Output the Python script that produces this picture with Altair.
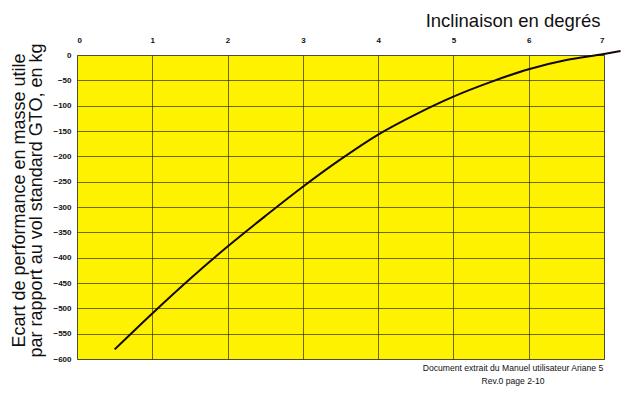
import altair as alt
import pandas as pd

# Curve
incl = [0.5, 1.0, 1.5, 2.0, 2.5, 3.0, 3.5, 4.0, 4.5, 5.0, 5.5, 6.0, 6.5, 7.0, 7.22]
ecart = [-581, -510, -442, -378, -318, -260, -206, -157, -117, -82, -53, -28, -10, 2, 8]

x_ticks = [0, 1, 2, 3, 4, 5, 6, 7]
y_ticks = [0, -50, -100, -150, -200, -250, -300, -350, -400, -450, -500, -550, -600]

x_title = "Inclinaison en degrés"
y_title = ["Ecart de performance  en masse utile", "par rapport au vol standard GTO, en kg"]
footer = ["Document extrait du Manuel utilisateur Ariane 5", "Rev.0 page 2-10"]

df = pd.DataFrame({"incl": incl, "ecart": ecart})
foot_df = pd.DataFrame({"t": ["\n".join(footer)]})

FONT = "Liberation Sans"

line = alt.Chart(df).mark_line(color="#140808", strokeWidth=2, clip=False, interpolate="monotone").encode(
    x=alt.X(
        "incl:Q",
        scale=alt.Scale(domain=[0, 7], nice=False, zero=False),
        axis=alt.Axis(
            orient="top",
            values=x_ticks,
            title=x_title,
            titleFont=FONT,
            titleFontSize=18.5,
            titleFontWeight="normal",
            titleColor="#111",
            titleAnchor="end",
            titleAlign="right",
            titleBaseline="alphabetic",
            titleX=523,
            titleY=-29,
            labelFont=FONT,
            labelFontSize=8,
            labelFontWeight="bold",
            labelColor="#111",
            labelPadding=11,
            ticks=False,
            domain=False,
            grid=True,
            gridColor="#2a2a10",
            gridWidth=0.8,
            gridOpacity=0.85,
        ),
    ),
    y=alt.Y(
        "ecart:Q",
        scale=alt.Scale(domain=[-600, 0], nice=False, zero=False),
        axis=alt.Axis(
            values=y_ticks,
            title=y_title,
            titleFont=FONT,
            titleFontSize=18,
            titleFontWeight="normal",
            titleColor="#111",
            titleAngle=-90,
            titleAlign="center",
            titleBaseline="top",
            titleLineHeight=17.5,
            titleX=-67,
            titleY=145,
            labelFont=FONT,
            labelFontSize=8,
            labelFontWeight="bold",
            labelColor="#111",
            labelPadding=6,
            ticks=False,
            domain=False,
            grid=True,
            gridColor="#2a2a10",
            gridWidth=0.8,
            gridOpacity=0.85,
        ),
    ),
)

foot = alt.Chart(foot_df).mark_text(
    font=FONT, fontSize=8.6, color="#111",
    align="center", baseline="top", lineBreak="\n", lineHeight=13
).encode(text="t:N", x=alt.value(436), y=alt.value(309))

chart = alt.layer(line, foot).properties(
    width=527,
    height=304,
    padding={"left": 69, "top": 47, "right": 17, "bottom": 39},
    autosize=alt.AutoSizeParams(type="none"),
    background="white",
).configure_view(
    fill="#FFF200", stroke="#999999", strokeWidth=1
)

chart.save("out.html", embed_options={"renderer": "svg", "actions": False})
